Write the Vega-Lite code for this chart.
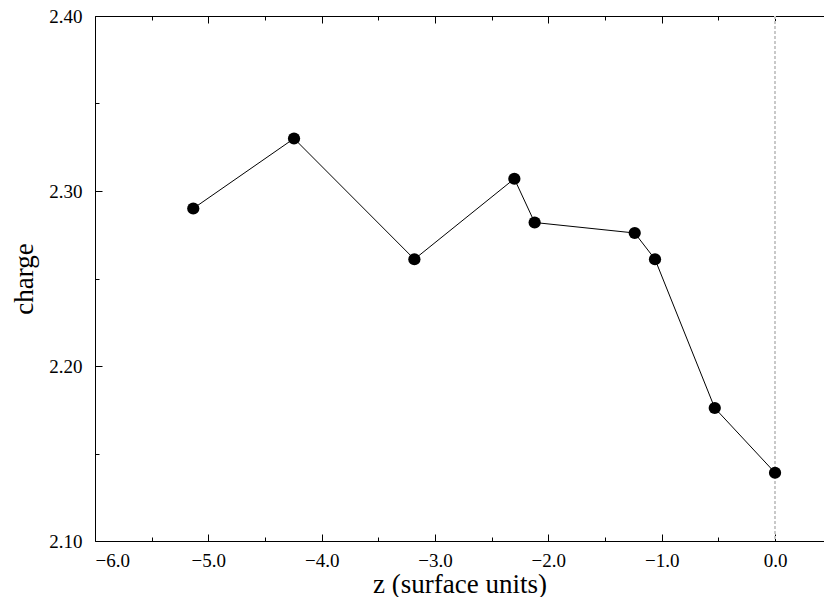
{
  "$schema": "https://vega.github.io/schema/vega-lite/v6.json",
  "width": 729,
  "height": 525,
  "autosize": {"type": "none"},
  "padding": {"left": 95, "top": 16, "right": 0, "bottom": 56},
  "background": "white",
  "config": {
    "view": {"stroke": null},
    "font": "Liberation Serif",
    "axis": {
      "grid": false,
      "domainColor": "black",
      "domainWidth": 1,
      "tickColor": "black",
      "tickWidth": 1,
      "labelFont": "Liberation Serif",
      "labelFontSize": 19,
      "labelColor": "black",
      "titleFont": "Liberation Serif",
      "titleFontSize": 27,
      "titleFontWeight": "normal",
      "titleColor": "black"
    }
  },
  "data": {
    "values": [
      {"z": -5.133, "charge": 2.290},
      {"z": -4.244, "charge": 2.330},
      {"z": -3.182, "charge": 2.261},
      {"z": -2.300, "charge": 2.307},
      {"z": -2.121, "charge": 2.282},
      {"z": -1.238, "charge": 2.276},
      {"z": -1.059, "charge": 2.261},
      {"z": -0.532, "charge": 2.176},
      {"z": 0.0, "charge": 2.139}
    ]
  },
  "resolve": {"axis": {"x": "independent"}},
  "layer": [
    {
      "mark": {"type": "rule", "color": "#c8c8c8", "strokeDash": [3, 2], "strokeWidth": 1},
      "encoding": {
        "x": {"datum": 0, "type": "quantitative", "axis": null}
      }
    },
    {
      "mark": {"type": "line", "color": "black", "strokeWidth": 1},
      "encoding": {
        "x": {
          "field": "z",
          "type": "quantitative",
          "scale": {"domain": [-6, 0.432], "nice": false, "zero": false},
          "axis": {
            "orient": "bottom",
            "title": "z (surface units)",
            "values": [-6, -5.5, -5, -4.5, -4, -3.5, -3, -2.5, -2, -1.5, -1, -0.5, 0],
            "labelExpr": "round(datum.value*10)%10===0 ? format(datum.value,'.1f') : ''",
            "tickSize": {"condition": {"test": "round(datum.value*10)%10===0", "value": -7}, "value": -4},
            "labelPadding": 17,
            "titlePadding": 1
          }
        },
        "y": {
          "field": "charge",
          "type": "quantitative",
          "scale": {"domain": [2.1, 2.4], "nice": false, "zero": false},
          "axis": {
            "orient": "left",
            "title": "charge",
            "values": [2.1, 2.15, 2.2, 2.25, 2.3, 2.35, 2.4],
            "labelExpr": "round(datum.value*100)%10===0 ? format(datum.value,'.2f') : ''",
            "tickSize": {"condition": {"test": "round(datum.value*100)%10===0", "value": -7}, "value": -4},
            "labelPadding": 20,
            "titlePadding": 10
          }
        }
      }
    },
    {
      "mark": {"type": "point", "filled": true, "color": "black", "opacity": 1, "size": 150, "shape": "circle"},
      "encoding": {
        "x": {
          "field": "z",
          "type": "quantitative",
          "axis": {
            "orient": "top",
            "title": null,
            "labels": false,
            "values": [-6, -5.5, -5, -4.5, -4, -3.5, -3, -2.5, -2, -1.5, -1, -0.5, 0],
            "tickSize": {"condition": {"test": "round(datum.value*10)%10===0", "value": -7}, "value": -4}
          }
        },
        "y": {"field": "charge", "type": "quantitative"}
      }
    }
  ]
}
